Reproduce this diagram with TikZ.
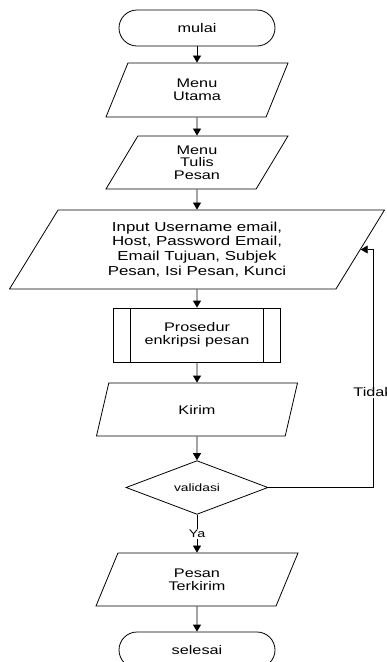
\documentclass[tikz,border=0pt]{standalone}
\usepackage{fontspec}
\setmainfont{Liberation Sans}[FakeStretch=1.3]
\usetikzlibrary{positioning,shapes.geometric,arrows.meta}
\tikzstyle{terminal} = [draw, rectangle, rounded corners=18pt, minimum width=156pt, minimum height=36pt]
\tikzstyle{io} = [draw, trapezium, trapezium left angle=52, trapezium right angle=128, trapezium stretches body, minimum width=182pt, minimum height=54pt, align=center]
\tikzstyle{decision} = [draw, diamond, minimum width=142pt, minimum height=51pt, inner sep=0pt]
\tikzstyle{ket} = [fill=white, inner sep=1pt]
\tikzset{prosedur/.style={
    draw, rectangle, minimum width=167pt, minimum height=54pt, align=center,
    path picture={
        \draw ([xshift=17pt]path picture bounding box.south west) -- ([xshift=17pt]path picture bounding box.north west)
              ([xshift=-17pt]path picture bounding box.south east) -- ([xshift=-17pt]path picture bounding box.north east);
        }
    }
}

\begin{document}
\begin{tikzpicture}[>={Triangle[width=8pt,length=7pt]}, line width=0.8pt, font=\fontsize{12.5pt}{12.7pt}\selectfont]
        \useasboundingbox (0,0) rectangle (387pt,-662pt);
        \node [terminal] (mulai) at (197pt,-28pt) {mulai};
        \node [io, below of=mulai, node distance=62pt] (utama) {Menu\\Utama};
        \node [io, below of=utama, node distance=72.5pt, minimum height=53pt] (tulis) {Menu\\Tulis\\Pesan};
        \node [io, below of=tulis, node distance=87pt, minimum width=375pt, minimum height=79pt, font=\fontsize{13pt}{14.8pt}\selectfont] (input) {Input Username email,\\Host, Password Email,\\Email Tujuan, Subjek\\Pesan, Isi Pesan, Kunci};
        \node [prosedur, below of=input, node distance=85.5pt] (enkripsi) {Prosedur\\enkripsi pesan};
        \node [io, below of=enkripsi, node distance=74.5pt, minimum width=201pt, minimum height=53pt] (kirim) {Kirim};
        \node [decision, below of=kirim, node distance=78pt, font=\fontsize{10.6pt}{12pt}\selectfont] (validasi) {validasi};
        \node [io, below of=validasi, node distance=92pt, minimum width=202pt, minimum height=53pt] (terkirim) {Pesan\\Terkirim};
        \node [terminal, below of=terkirim, node distance=70.5pt] (selesai) {selesai};

        \draw [->] (mulai) -- (utama);
        \draw [->] (utama) -- (tulis);
        \draw [->] (tulis) -- (input);
        \draw [->] (input) -- (enkripsi);
        \draw [->] (enkripsi) -- (kirim);
        \draw [->] (kirim) -- (validasi);
        \draw [->] (validasi) -- node [ket, font=\fontsize{11pt}{12pt}\selectfont] {Ya} (terkirim);
        \draw [->] (terkirim) -- (selesai);

        \node [coordinate, right of=validasi, node distance=176pt] (balik) {};
        \draw (validasi) -- (balik);
        \draw [->] (balik) |- node [ket, pos=0.2] {Tidak} (input);
    \end{tikzpicture}
\end{document}
